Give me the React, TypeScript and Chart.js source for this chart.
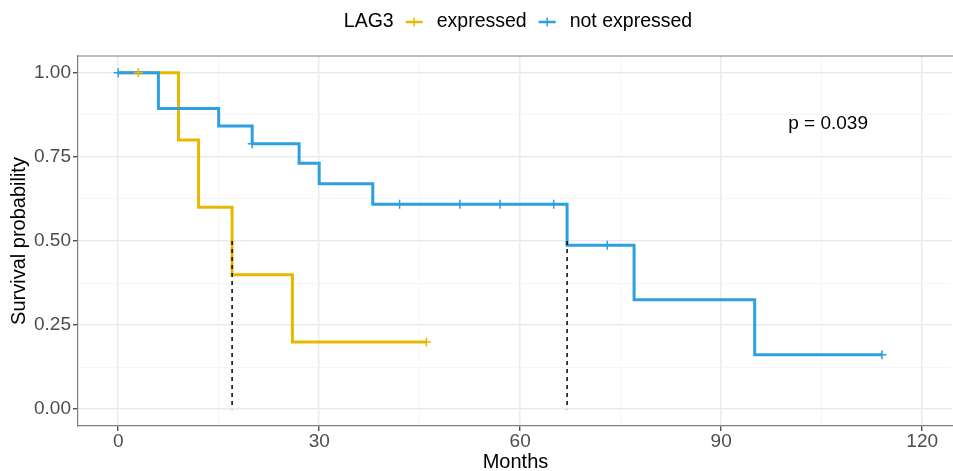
import React, { useEffect, useRef } from "react";
import { Chart, registerables } from "chart.js";
Chart.register(...registerables);

const legendTitle = "LAG3";
const groupNames = ["expressed", "not expressed"];
const groupColors = ["#E7B800", "#2E9FDF"];

const expressedTimes = [0, 9, 12, 17, 26, 46];
const expressedSurv = [1, 0.8, 0.6, 0.4, 0.2, 0.2];
const expressedCensor = [3, 46];

const notExpressedTimes = [0, 6, 15, 20, 27, 30, 38, 67, 77, 95, 114];
const notExpressedSurv = [1, 0.894, 0.842, 0.789, 0.731, 0.67, 0.609, 0.487, 0.325, 0.162, 0.162];
const notExpressedCensor = [0, 20, 42, 51, 57, 65, 73, 114];

const medianTimes = [17, 67];
const medianLevel = 0.5;

const xTicks = [0, 30, 60, 90, 120];
const xMinor = [15, 45, 75, 105];
const yTicks = [0, 0.25, 0.5, 0.75, 1];
const yMinor = [0.125, 0.375, 0.625, 0.875];
const xRange = [-6, 124.6];
const yRange = [-0.05, 1.05];

const pValueText = "p = 0.039";
const pValuePos = [100, 0.85];
const xTitle = "Months";
const yTitle = "Survival probability";

const FONT = "'Liberation Sans', Arial, sans-serif";
const AXIS_COLOR = "#7F7F7F";

function survAt(times: number[], surv: number[], t: number) {
  let v = surv[0];
  for (let i = 0; i < times.length; i++) if (times[i] <= t) v = surv[i];
  return v;
}

function isIn(arr: number[], v: number) {
  return arr.some((a) => Math.abs(a - v) < 1e-9);
}

export default function App() {
  const ref = useRef<HTMLCanvasElement | null>(null);

  useEffect(() => {
    const canvas = ref.current;
    if (!canvas) return;

    const curves = [
      { times: expressedTimes, surv: expressedSurv, censor: expressedCensor },
      { times: notExpressedTimes, surv: notExpressedSurv, censor: notExpressedCensor },
    ];

    const datasets: any[] = [];
    medianTimes.forEach((t) => {
      datasets.push({
        data: [
          { x: t, y: medianLevel },
          { x: t, y: 0 },
        ],
        borderColor: "#000000",
        borderWidth: 1.5,
        borderDash: [4, 4],
        pointRadius: 0,
        fill: false,
        order: 1,
      });
    });
    curves.forEach((c, i) => {
      datasets.push({
        data: c.censor.map((t) => ({ x: t, y: survAt(c.times, c.surv, t) })),
        showLine: false,
        pointStyle: "cross",
        pointRadius: 4.5,
        pointHoverRadius: 4.5,
        pointBorderWidth: 1.5,
        pointBorderColor: groupColors[i],
        pointBackgroundColor: groupColors[i],
        order: 2,
      });
    });
    curves.forEach((c, i) => {
      datasets.push({
        data: c.times.map((t, k) => ({ x: t, y: c.surv[k] })),
        stepped: "before",
        borderColor: groupColors[i],
        borderWidth: 3,
        pointRadius: 0,
        fill: false,
        order: i === 0 ? 4 : 3,
      });
    });

    const gridColor = (major: number[], minor: number[]) => (ctx: any) => {
      if (!ctx.tick) return "rgba(0,0,0,0)";
      if (isIn(major, ctx.tick.value)) return "#EBEBEB";
      if (isIn(minor, ctx.tick.value)) return "#F4F4F4";
      return "rgba(0,0,0,0)";
    };
    const gridWidth = (major: number[]) => (ctx: any) =>
      ctx.tick && isIn(major, ctx.tick.value) ? 1.5 : 0.8;
    const tickColor = (major: number[]) => (ctx: any) =>
      ctx.tick && isIn(major, ctx.tick.value) ? "#333333" : "rgba(0,0,0,0)";

    const overlay = {
      id: "overlay",
      afterDraw(chart: any) {
        const ctx = chart.ctx;
        const { left, right, top, bottom } = chart.chartArea;
        ctx.save();
        // the panel continues past the right edge: no closing border there
        ctx.fillStyle = "#ffffff";
        ctx.fillRect(right - 1.5, top + 1, 1.5, bottom - top - 2);

        ctx.strokeStyle = AXIS_COLOR;
        ctx.lineWidth = 1.2;
        ctx.beginPath();
        ctx.moveTo(left, top);
        ctx.lineTo(right, top);
        ctx.stroke();

        const xs = chart.scales.x;
        const ys = chart.scales.y;
        ctx.fillStyle = "#000000";
        ctx.font = `19px ${FONT}`;
        ctx.textAlign = "left";
        ctx.textBaseline = "middle";
        ctx.fillText(pValueText, xs.getPixelForValue(pValuePos[0]), ys.getPixelForValue(pValuePos[1]));

        ctx.font = `19.5px ${FONT}`;
        const keyW = 17;
        const gapTK = 12;
        const gapKL = 14;
        const gapLK = 12;
        const wTitle = ctx.measureText(legendTitle).width;
        const wLabels = groupNames.map((n) => ctx.measureText(n).width);
        let total = wTitle;
        groupNames.forEach((_, i) => {
          total += (i === 0 ? gapTK : gapLK) + keyW + gapKL + wLabels[i];
        });
        let x = 518 - total / 2;
        const cy = 22;
        ctx.textAlign = "left";
        ctx.textBaseline = "middle";
        ctx.fillStyle = "#000000";
        ctx.fillText(legendTitle, x, cy);
        x += wTitle;
        groupNames.forEach((n, i) => {
          x += i === 0 ? gapTK : gapLK;
          ctx.strokeStyle = groupColors[i];
          ctx.lineWidth = 2.5;
          ctx.beginPath();
          ctx.moveTo(x, cy);
          ctx.lineTo(x + keyW, cy);
          ctx.stroke();
          ctx.lineWidth = 1.5;
          ctx.beginPath();
          ctx.moveTo(x + keyW / 2, cy - 4.5);
          ctx.lineTo(x + keyW / 2, cy + 4.5);
          ctx.stroke();
          x += keyW + gapKL;
          ctx.fillStyle = "#000000";
          ctx.fillText(n, x, cy);
          x += wLabels[i];
        });
        ctx.restore();
      },
    };

    const chart = new Chart(canvas, {
      type: "line",
      data: { datasets },
      plugins: [overlay],
      options: {
        animation: false,
        responsive: false,
        maintainAspectRatio: false,
        layout: { autoPadding: false, padding: { top: 56, left: 0, right: 0, bottom: 0 } },
        plugins: { legend: { display: false }, tooltip: { enabled: false } },
        scales: {
          x: {
            type: "linear",
            min: xRange[0],
            max: xRange[1],
            afterBuildTicks: (scale: any) => {
              scale.ticks = [...xTicks, ...xMinor].sort((a, b) => a - b).map((v) => ({ value: v }));
            },
            afterFit: (scale: any) => {
              scale.height = 45;
            },
            ticks: {
              autoSkip: false,
              maxRotation: 0,
              padding: 1,
              color: "#4D4D4D",
              font: { family: FONT, size: 19, lineHeight: 1 },
              callback: (v: any) => (isIn(xTicks, Number(v)) ? String(v) : ""),
            },
            grid: {
              color: gridColor(xTicks, xMinor),
              lineWidth: gridWidth(xTicks),
              tickLength: 5,
              tickColor: tickColor(xTicks),
              tickWidth: 1.2,
            },
            border: { display: true, color: AXIS_COLOR, width: 1.2 },
            title: {
              display: true,
              text: xTitle,
              color: "#000000",
              font: { family: FONT, size: 20, lineHeight: 0.9 },
              padding: { top: 0, bottom: 0 },
            },
          },
          y: {
            type: "linear",
            min: yRange[0],
            max: yRange[1],
            afterBuildTicks: (scale: any) => {
              scale.ticks = [...yTicks, ...yMinor].sort((a, b) => a - b).map((v) => ({ value: v }));
            },
            afterFit: (scale: any) => {
              scale.width = 78;
            },
            ticks: {
              autoSkip: false,
              padding: 2,
              color: "#4D4D4D",
              font: { family: FONT, size: 19, lineHeight: 1 },
              callback: (v: any) => (isIn(yTicks, Number(v)) ? Number(v).toFixed(2) : ""),
            },
            grid: {
              color: gridColor(yTicks, yMinor),
              lineWidth: gridWidth(yTicks),
              tickLength: 5,
              tickColor: tickColor(yTicks),
              tickWidth: 1.2,
            },
            border: { display: true, color: AXIS_COLOR, width: 1.2 },
            title: {
              display: true,
              text: yTitle,
              color: "#000000",
              font: { family: FONT, size: 20 },
              padding: { top: 7, bottom: 0 },
            },
          },
        },
      } as any,
    });
    return () => chart.destroy();
  }, []);

  return (
    <div style={{ position: "fixed", left: 0, top: 0, width: 953, height: 471, background: "#ffffff" }}>
      <canvas ref={ref} width={953} height={471} style={{ width: 953, height: 471, display: "block" }} />
    </div>
  );
}
